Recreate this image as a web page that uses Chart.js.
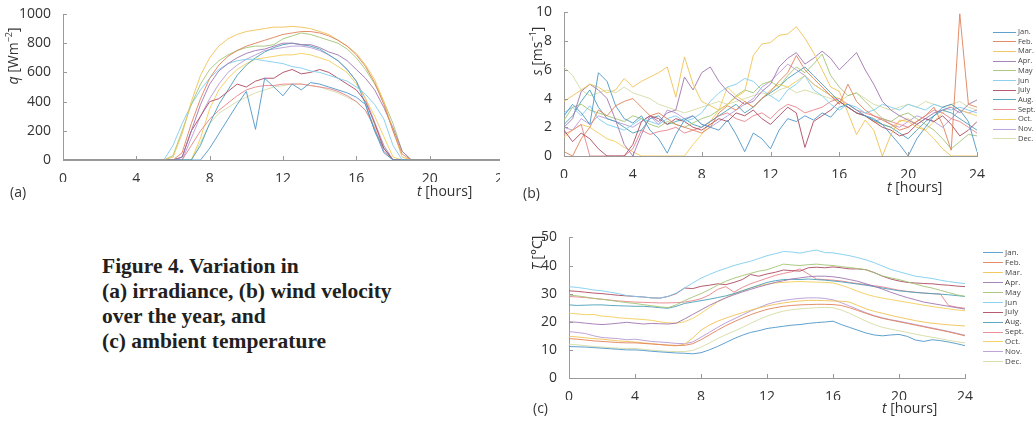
<!DOCTYPE html>
<html>
<head>
<meta charset="utf-8">
<script src="https://cdn.jsdelivr.net/npm/chart.js@4.4.1/dist/chart.umd.min.js"></script>
<style>
  body { margin:0; width:1035px; height:421px; background:#fff; position:relative; overflow:hidden;
         font-family:'Open Sans', 'Noto Sans', sans-serif; color:#333; }
  .panel { position:absolute; overflow:hidden; }
  .lbl { position:absolute; font-size:14px; color:#333; white-space:nowrap; line-height:1; }
  .ylbl { position:absolute; width:100px; height:16px; font-size:14px; line-height:16px; color:#333;
          white-space:nowrap; text-align:center; transform:rotate(-90deg); }
  .lbl i, .ylbl i { font-style:italic; }
  .lbl sup, .ylbl sup { font-size:9px; vertical-align:6px; line-height:0; }
  .legend { position:absolute; }
  .legend div { position:absolute; left:0; white-space:nowrap; line-height:1; color:#444; }
  .legend span { display:inline-block; vertical-align:middle; height:0; border-top:1px solid; }
  .caption { position:absolute; left:102px; top:254px; font-family:'Liberation Serif','DejaVu Serif',serif;
             font-weight:bold; font-size:21.5px; line-height:25px; color:#231f20; }
</style>
</head>
<body>

<div class="panel" style="left:0;top:0;width:500px;height:182px;"><canvas id="cA" width="520" height="182"></canvas></div>
<div class="panel" style="left:505px;top:0;width:490px;height:178px;"><canvas id="cB" width="490" height="178"></canvas></div>
<div class="panel" style="left:515px;top:225px;width:470px;height:175px;"><canvas id="cC" width="470" height="175"></canvas></div>

<!-- rotated labels: box 100x16, centre = (left+50, top+8) -->
<div class="ylbl" style="left:-37px;top:48px;"><i>q</i> [Wm<sup>−2</sup>]</div>
<div class="lbl" style="left:10px;top:185px;">(a)</div>
<div class="lbl" style="left:417px;top:184px;"><i>t</i> [hours]</div>

<div class="ylbl" style="left:487px;top:43px;"><i>s</i> [ms<sup>−1</sup>]</div>
<div class="lbl" style="left:523px;top:186px;">(b)</div>
<div class="lbl" style="left:887px;top:180px;"><i>t</i> [hours]</div>

<div class="ylbl" style="left:487px;top:245px;"><i>T</i> [°C]</div>
<div class="lbl" style="left:533px;top:401px;">(c)</div>
<div class="lbl" style="left:882px;top:401px;"><i>t</i> [hours]</div>

<div class="legend" id="legB" style="left:993px;top:28px;"></div>
<div class="legend" id="legC" style="left:983px;top:248px;"></div>

<div class="caption">Figure 4. Variation in<br>(a) irradiance, (b) wind velocity<br>over the year, and<br>(c) ambient temperature</div>

<script>
const hours = [0,0.5,1,1.5,2,2.5,3,3.5,4,4.5,5,5.5,6,6.5,7,7.5,8,8.5,9,9.5,10,10.5,11,11.5,
               12,12.5,13,13.5,14,14.5,15,15.5,16,16.5,17,17.5,18,18.5,19,19.5,20,20.5,21,21.5,22,22.5,23,23.5,24];
const months = ['Jan.','Feb.','Mar.','Apr.','May','Jun','July','Aug.','Sept.','Oct.','Nov.','Dec.'];
const colors = ['rgba(79,151,200,0.9)','rgba(224,130,90,0.9)','rgba(239,194,85,0.9)','rgba(160,119,176,0.9)',
                'rgba(163,196,116,0.9)','rgba(127,205,238,0.9)','rgba(173,74,96,0.9)','rgba(74,160,184,0.9)',
                'rgba(232,132,140,0.9)','rgba(243,205,90,0.9)','rgba(183,154,214,0.9)','rgba(214,220,164,0.9)'];
const xTicks = [0,4,8,12,16,20,24];

// (a) irradiance q [W/m2]
const qJan  = [0,0,0,0,0,0,0,0,0,0,0,0,0,0,0,0,80,180,280,380,470,210,560,500,440,520,480,530,520,500,480,460,430,380,200,50,0,0,0,0,0,0,0,0,0,0,0,0,0];
const qFeb  = [0,0,0,0,0,0,0,0,0,0,0,0,0,50,250,420,560,650,710,750,780,800,820,840,860,870,880,880,870,850,820,780,720,640,530,380,200,40,0,0,0,0,0,0,0,0,0,0,0];
const qMar  = [0,0,0,0,0,0,0,0,0,0,0,0,20,180,400,580,700,780,830,860,880,890,900,910,910,915,910,900,880,860,820,780,730,650,550,400,200,20,0,0,0,0,0,0,0,0,0,0,0];
const qApr  = [0,0,0,0,0,0,0,0,0,0,0,0,0,20,200,380,520,610,660,700,730,750,760,780,800,800,790,790,770,740,720,680,620,560,480,360,220,60,0,0,0,0,0,0,0,0,0,0,0];
const qMay  = [0,0,0,0,0,0,0,0,0,0,0,0,30,200,380,520,620,680,720,750,770,780,780,790,830,850,870,860,840,820,800,760,700,620,520,400,250,60,0,0,0,0,0,0,0,0,0,0,0];
const qJun  = [0,0,0,0,0,0,0,0,0,0,0,0,100,250,380,480,560,620,660,680,690,690,680,670,660,640,630,610,600,580,560,540,500,450,380,280,100,0,0,0,0,0,0,0,0,0,0,0,0];
const qJul  = [0,0,0,0,0,0,0,0,0,0,0,0,0,20,200,300,400,420,470,520,500,540,560,560,600,620,590,600,620,600,560,520,480,400,250,80,0,0,0,0,0,0,0,0,0,0,0,0,0];
const qAug  = [0,0,0,0,0,0,0,0,0,0,0,0,0,0,0,100,250,380,480,580,650,700,740,770,790,800,790,780,760,720,680,620,540,380,200,80,0,0,0,0,0,0,0,0,0,0,0,0,0];
const qSep  = [0,0,0,0,0,0,0,0,0,0,0,0,0,0,100,200,280,340,390,440,480,500,510,510,520,520,520,510,500,490,470,440,400,340,220,60,0,0,0,0,0,0,0,0,0,0,0,0,0];
const qOct  = [0,0,0,0,0,0,0,0,0,0,0,0,0,0,0,150,350,480,560,620,660,690,700,710,720,720,730,720,700,680,640,600,520,420,300,160,20,0,0,0,0,0,0,0,0,0,0,0,0];
const qNov  = [0,0,0,0,0,0,0,0,0,0,0,0,0,0,150,300,420,520,600,650,690,720,750,760,770,780,780,770,750,720,680,620,540,420,260,100,0,0,0,0,0,0,0,0,0,0,0,0,0];
const qDec  = [0,0,0,0,0,0,0,0,0,0,0,0,0,0,0,120,250,320,360,400,430,460,480,500,510,520,520,510,500,480,460,430,400,340,240,100,0,0,0,0,0,0,0,0,0,0,0,0,0];

// (b) wind velocity s [m/s]
const sJan  = [2.8,3.6,3.0,2.2,5.8,5.2,3.5,2.6,2.3,2.8,1.8,1.2,0.2,1.5,2.5,2.8,2.2,2.0,1.8,2.5,1.5,0.3,1.6,1.2,0.5,1.8,2.6,2.4,2.8,2.5,3.0,2.7,3.4,3.6,3.2,2.8,2.5,2.2,1.5,0.8,0.0,1.2,2.0,2.8,3.4,3.6,3.2,2.4,0.3];
const sFeb  = [0.3,0.0,1.2,2.0,3.2,2.8,3.5,3.8,4.0,3.4,2.8,3.0,2.6,2.2,2.0,1.8,1.6,2.0,3.0,3.5,3.2,3.8,3.4,4.0,4.5,5.2,5.8,7.0,6.0,5.4,4.8,4.2,3.6,5.0,3.8,3.2,2.8,2.5,2.2,1.8,2.0,2.4,2.8,3.4,2.2,0.4,9.9,3.6,3.4];
const sMar  = [3.8,4.2,4.6,5.0,4.8,4.4,4.6,5.4,4.8,5.2,5.5,5.8,6.2,4.1,6.9,5.0,3.8,3.5,3.2,3.6,4.1,4.5,7.0,7.8,7.9,8.4,8.5,9.0,8.2,7.2,6.0,4.8,4.5,3.0,1.5,2.5,1.8,0.0,1.5,2.5,2.4,2.0,1.8,1.2,0.5,0.0,0.0,0.0,0.0];
const sApr  = [2.0,2.6,4.5,5.0,4.6,4.0,2.5,0.8,0.0,1.5,2.8,2.4,3.0,3.2,5.5,4.6,5.8,6.2,5.2,4.5,4.0,3.6,3.8,4.5,5.0,6.2,6.8,7.2,6.4,6.8,7.3,6.8,6.0,6.6,7.2,6.0,5.0,3.8,3.2,2.8,2.5,2.2,2.6,3.0,3.2,3.4,3.0,3.6,3.9];
const sMay  = [2.5,3.4,3.6,3.2,3.0,2.8,2.6,2.4,2.8,2.6,2.2,2.0,2.4,2.2,2.0,2.3,2.6,2.8,3.2,3.6,4.2,4.6,4.4,5.0,5.2,4.8,5.6,6.2,5.8,6.4,7.1,5.6,4.8,4.2,4.4,3.8,3.2,2.6,2.4,2.8,3.0,2.6,2.2,1.8,1.2,0.5,1.0,1.5,1.4];
const sJun  = [3.0,3.4,2.8,3.5,2.6,2.2,2.0,1.8,2.2,2.6,2.4,2.2,2.6,2.8,2.4,2.6,3.0,3.8,4.4,4.8,5.0,5.4,5.2,4.6,4.2,3.8,4.6,5.0,5.6,4.6,4.2,3.6,3.2,3.6,3.4,3.0,3.2,3.6,3.4,3.2,3.6,3.4,3.2,3.6,3.4,3.2,3.4,3.2,3.0];
const sJul  = [1.8,1.0,1.6,1.2,0.5,0.0,0.0,0.0,0.8,2.4,2.8,2.6,2.2,2.6,2.4,2.0,1.8,2.2,2.6,2.4,3.0,2.8,3.2,2.6,2.2,2.8,3.4,3.0,0.6,2.4,2.8,3.2,3.8,3.4,3.0,2.8,2.4,2.0,1.8,1.4,1.6,2.2,2.6,2.4,2.8,2.2,1.4,1.8,2.4];
const sAug  = [2.2,2.8,3.8,4.6,3.4,2.6,2.4,2.0,1.6,1.8,2.6,2.8,2.2,2.4,2.6,2.2,2.0,2.4,2.8,3.2,3.6,3.0,3.4,4.0,4.4,4.8,5.4,5.8,6.2,5.6,5.0,4.4,3.8,3.4,3.0,2.8,2.6,2.2,2.0,1.6,1.2,1.8,2.4,2.8,3.2,3.0,2.6,2.2,1.8];
const sSep  = [1.5,1.8,2.2,0.0,0.0,0.0,0.0,0.0,0.5,1.8,1.5,1.7,1.8,2.0,1.6,1.8,2.0,2.4,2.8,3.0,2.6,2.4,2.8,3.0,2.6,3.2,3.6,3.4,3.0,3.2,3.4,3.8,4.0,3.6,3.2,3.0,2.8,2.6,2.4,2.2,2.0,2.4,2.8,3.2,3.0,2.6,2.4,2.0,1.6];
const sOct  = [1.3,1.8,2.2,2.0,1.6,1.2,1.0,0.6,0.3,0.0,0.0,0.0,0.0,0.0,0.0,0.8,1.5,2.4,3.2,4.8,4.2,3.8,3.4,4.0,4.6,5.0,4.8,5.2,5.6,5.0,4.6,4.2,4.0,3.4,3.0,2.8,2.4,2.2,2.0,2.4,2.6,2.2,1.8,2.4,3.0,3.6,3.2,3.0,2.8];
const sNov  = [2.0,1.8,2.6,2.2,2.8,2.6,2.4,2.2,2.0,2.4,2.8,2.2,3.2,3.0,2.6,2.8,2.2,2.0,2.4,2.8,3.2,3.6,4.0,4.8,5.2,5.8,6.4,6.0,5.6,5.0,4.6,4.2,3.8,3.4,3.0,2.8,2.4,2.6,2.2,2.0,2.4,2.8,2.6,2.4,2.0,2.6,3.2,3.0,3.2];
const sDec  = [6.2,5.6,4.6,4.2,4.4,4.6,4.4,4.8,4.4,4.2,4.0,3.6,3.4,3.2,3.0,3.2,3.4,3.6,3.8,3.6,3.8,4.0,4.2,4.4,4.2,4.6,4.8,4.4,4.6,4.4,4.2,4.0,3.8,4.2,4.4,4.0,3.6,3.4,3.2,3.4,3.6,3.4,3.8,3.6,3.4,3.6,3.8,3.4,3.2];

// (c) ambient temperature T [°C]
const tJan  = [11.2,11.1,11,10.8,10.6,10.4,10.2,10,10,9.8,9.5,9.3,9.1,8.9,8.8,8.6,9,10,11.2,12.6,14,15.2,16.2,16.8,17.6,18,18.4,18.8,19,19.4,19.7,19.9,20.2,19,18,17,16,15.3,15,15.3,15.5,14.8,13.5,13,13.6,13.3,12.8,12.2,11.5];
const tFeb  = [14,13.8,13.5,13.2,13,12.8,12.6,12.5,12.5,12.3,12.1,11.9,11.7,11.6,11.6,12.2,13.6,15.3,17,18.6,20,21.3,22.5,23.5,24.4,25,25.5,25.8,26,26.1,26.2,26.2,26.1,25.8,25,24,23,22,21.2,20.6,20,19.4,18.8,18.2,17.6,17,16.4,15.7,15];
const tMar  = [14.8,14.6,14.3,14,13.8,13.5,13.2,13,12.8,12.5,12.2,11.9,11.6,11.4,12,14.2,17,18.8,20.2,21.3,22.3,23.2,24.1,24.9,25.6,26.2,26.7,27.1,27.4,27.6,27.6,27.5,27.4,27.3,27,25.8,24.6,23.7,23,22.3,21.6,21,20.4,19.9,19.5,19.2,18.9,18.7,18.5];
const tApr  = [20,19.8,19.5,19.2,19,19.2,19.5,19.8,19.5,19.2,19.4,19.3,19.2,19.5,21,22.6,24.2,25.8,27.2,28.5,29.6,30.6,31.5,32.4,33.2,34,34.6,35.2,35.6,36,36.2,36.2,36,35.6,35,34.4,33.5,32.6,31.6,30.5,29.5,28.6,27.8,27,26.5,26,25.5,25,24.5];
const tMay  = [29.5,29.2,28.8,28.3,28,27.6,27.2,26.8,26.5,26.1,25.7,25.3,25,26,27.5,28.8,30,31.4,33,34.4,35.5,36.4,37.2,38,38.5,39.5,40.5,40.2,40,40.3,40.5,40.2,40,39.6,39.3,38.9,38.5,37.4,36.3,35.6,35,34.2,33.4,32.6,32,31.2,30.4,29.6,29];
const tJun  = [32.5,32.2,31.8,31.3,31,30.5,30,29.3,29,28.8,28.5,28.4,29,30.2,32,33.8,35.5,36.8,38,39,40,40.8,41.5,42.5,43.5,44.2,45,44.8,44.4,45,45.5,44.6,44.5,44,43.5,42.8,42,41,39.8,38.6,37.8,37,36.2,35.8,35.4,34.8,34.3,33.9,33.6];
const tJul  = [31,30.8,30.5,30.2,30,29.7,29.4,29.2,29,28.8,28.5,28.4,29,30,32,31.8,32.6,33,33.5,33.2,34,35,36.8,36.2,37,37.6,38.4,38.2,38,39.2,39.4,39.2,39.5,39.2,38.8,38.8,38.5,37.5,36.2,35.2,34.5,34,33.8,33.6,33.5,33.2,33,32.7,32.5];
const tAug  = [26,25.8,25.9,26,26,25.8,25.7,25.6,25.5,25.5,25.3,25,24.8,25.5,26.5,27,27.5,28,28.6,29.2,30,31,32,33,34,34.6,35,35.1,35,35.2,35,34.8,34.5,34.2,33.8,33.4,33,32.5,32,31.5,31,30.7,30.4,30.2,30,29.8,29.6,29.3,29];
const tSep  = [29,28.8,28.6,28.3,28,27.7,27.4,27.2,27,26.9,26.8,26.7,26.7,26.8,27,27.5,28.2,29.5,31.5,32.5,30.5,32.2,33.5,34.5,35.5,36.5,37.2,37.8,38.8,37,35.2,35,34.8,34.5,34,33.6,33.2,32.8,32.4,31.8,31.2,30.8,30.5,30.2,30,29.9,25.8,25.2,24.8];
const tOct  = [23,22.8,22.5,22.6,22,21.8,21.4,21.2,21,20.8,20.5,20,19.6,19.5,20,21.2,23,25,27,28.6,30,31,32,32.8,33.4,33.8,34,34.2,34.3,34.2,34.1,34,33.8,33,32,30.8,29.8,29,28.4,27.9,27.4,26.9,26.4,25.9,25.4,25,24.6,24.2,23.9];
const tNov  = [16.5,16.2,15.8,15,14.4,14.2,14,13.6,13.8,13.4,13,12.8,12.6,12.3,12.2,12.8,14.5,16.2,18,19.6,21,22.4,23.8,25,26.2,27,27.6,28,28.3,28.5,28.5,28.3,27.8,26.8,25.6,24.4,23.2,22.2,21.4,20.7,20.2,19.6,19,18.4,17.8,17.2,16.6,15.9,15.2];
const tDec  = [12,11.8,11.5,11.2,11,10.8,10.6,10.5,10.5,10.2,9.9,9.7,9.5,9.4,9.4,9.8,11,12.4,14,15.4,16.6,18,19.4,20.8,22,23,23.8,24.3,24.6,24.8,25,25.1,25,24.2,23,21.6,20.2,19,18,17.4,16.8,16.2,15.6,15,14.5,14,13.4,12.9,12.5];

const qSeries = [qJan,qFeb,qMar,qApr,qMay,qJun,qJul,qAug,qSep,qOct,qNov,qDec];
const sSeries = [sJan,sFeb,sMar,sApr,sMay,sJun,sJul,sAug,sSep,sOct,sNov,sDec];
const tSeries = [tJan,tFeb,tMar,tApr,tMay,tJun,tJul,tAug,tSep,tOct,tNov,tDec];

const axisColor = '#9a9a9a';
Chart.defaults.font.family = "'Open Sans', 'Noto Sans', sans-serif";
Chart.defaults.font.size = 14;
Chart.defaults.color = '#333';

// MATLAB style: small ticks pointing into the plot
const inwardTicks = {
  id: 'inwardTicks',
  afterDraw(chart) {
    const { ctx, chartArea: a, scales: { x, y } } = chart;
    ctx.save();
    ctx.strokeStyle = axisColor;
    ctx.lineWidth = 1;
    ctx.beginPath();
    x.ticks.forEach(t => {
      const px = Math.round(x.getPixelForValue(t.value)) + 0.5;
      ctx.moveTo(px, a.bottom); ctx.lineTo(px, a.bottom - 4);
    });
    y.ticks.forEach(t => {
      const py = Math.round(y.getPixelForValue(t.value)) + 0.5;
      ctx.moveTo(a.left, py); ctx.lineTo(a.left + 4, py);
    });
    ctx.stroke();
    ctx.restore();
  }
};

function makeChart(id, series, yMax, yStep, yWidth, pad) {
  return new Chart(document.getElementById(id), {
    type: 'line',
    data: {
      datasets: series.map((vals, i) => ({
        label: months[i],
        data: hours.map((h, j) => ({ x: h, y: vals[j] })),
        borderColor: colors[i],
        borderWidth: 1,
        pointRadius: 0,
        tension: 0,
      })),
    },
    options: {
      responsive: false,
      animation: false,
      layout: { padding: pad },
      plugins: { legend: { display: false }, tooltip: { enabled: false } },
      scales: {
        x: {
          type: 'linear', min: 0, max: 24,
          afterBuildTicks: s => { s.ticks = xTicks.map(v => ({ value: v })); },
          ticks: { padding: 3, maxRotation: 0, callback: v => String(v) },
          grid: { display: false },
          border: { color: axisColor },
          afterFit: s => { s.height = 22; },
        },
        y: {
          min: 0, max: yMax,
          ticks: { stepSize: yStep, padding: 4, callback: v => String(v) },
          grid: { display: false },
          border: { color: axisColor },
          afterFit: s => { s.width = yWidth; },
        },
      },
    },
    plugins: [inwardTicks],
  });
}

makeChart('cA', qSeries, 1000, 200, 63, { left: 0, right: 17, top: 14, bottom: 0 });
makeChart('cB', sSeries, 10, 2, 59, { left: 0, right: 18, top: 12, bottom: 0 });
makeChart('cC', tSeries, 50, 10, 54, { left: 0, right: 20, top: 10, bottom: 0 });

function buildLegend(id, step, lineW, fontSize) {
  const box = document.getElementById(id);
  months.forEach((m, i) => {
    const row = document.createElement('div');
    row.style.top = (i * step) + 'px';
    row.style.fontSize = fontSize + 'px';
    row.innerHTML = '<span style="width:' + lineW + 'px;border-color:' + colors[i] + '"></span> ' + m;
    box.appendChild(row);
  });
}
buildLegend('legB', 9.7, 23, 7.5);
buildLegend('legC', 9.9, 20, 8);
</script>
</body>
</html>
